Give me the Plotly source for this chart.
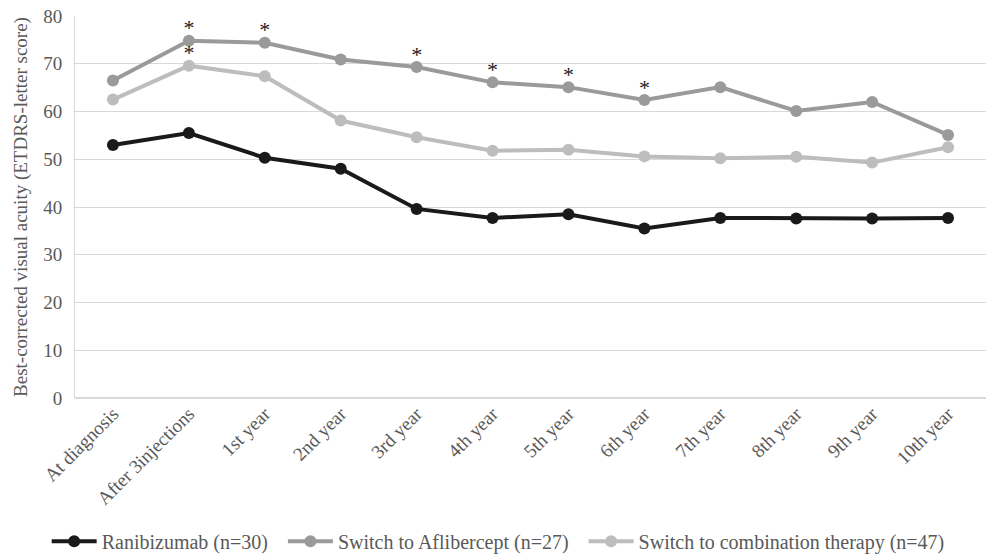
import plotly.graph_objects as go

categories = ["At diagnosis", "After 3injections", "1st year", "2nd year", "3rd year",
              "4th year", "5th year", "6th year", "7th year", "8th year", "9th year", "10th year"]

ranibizumab = [53.0, 55.5, 50.3, 48.0, 39.6, 37.7, 38.5, 35.5, 37.7, 37.6, 37.6, 37.7]
aflibercept = [66.5, 74.8, 74.4, 70.9, 69.3, 66.1, 65.1, 62.4, 65.1, 60.1, 62.0, 55.1]
combination = [62.5, 69.6, 67.4, 58.1, 54.6, 51.8, 52.0, 50.6, 50.2, 50.5, 49.3, 52.5]

# significance flags (p < 0.05) per time point
aflibercept_sig = [False, True, True, False, True, True, True, True, False, False, False, False]
combination_sig = [False, True, False, False, False, False, False, False, False, False, False, False]

y_ticks = [0, 10, 20, 30, 40, 50, 60, 70, 80]

series = [
    ("Ranibizumab (n=30)", ranibizumab, "#1a1a1a"),
    ("Switch to Aflibercept (n=27)", aflibercept, "#9a9a9a"),
    ("Switch to combination therapy (n=47)", combination, "#bdbdbd"),
]

FONT = "Liberation Serif"
TEXT_COLOR = "#595959"
FS = 19

fig = go.Figure()
for name, vals, color in series:
    fig.add_trace(go.Scatter(
        x=categories, y=vals, name=name + "  ", mode="lines+markers",
        line=dict(color=color, width=4),
        marker=dict(color=color, size=12),
    ))

for vals, flags in [(aflibercept, aflibercept_sig), (combination, combination_sig)]:
    xs = [c for c, f in zip(categories, flags) if f]
    ys = [v for v, f in zip(vals, flags) if f]
    fig.add_trace(go.Scatter(
        x=xs, y=ys, mode="text", text=["*"] * len(xs),
        textposition="top center",
        textfont=dict(family=FONT, size=22, color="#1a1a1a"),
        showlegend=False, hoverinfo="skip",
    ))

fig.update_layout(
    width=986, height=556,
    margin=dict(l=75, r=0, t=16, b=158, autoexpand=False),
    plot_bgcolor="white", paper_bgcolor="white",
    font=dict(family=FONT, size=FS, color=TEXT_COLOR),
    legend=dict(orientation="h", x=0.47, xanchor="center", y=-0.375, yanchor="middle",
                font=dict(family=FONT, size=20, color=TEXT_COLOR),
                itemwidth=45, traceorder="normal"),
    xaxis=dict(range=[-0.5, len(categories) - 0.5], tickangle=-45, showgrid=False,
               showline=False, ticks="", automargin=False,
               tickfont=dict(family=FONT, size=FS, color=TEXT_COLOR)),
    yaxis=dict(range=[0, 80], tickvals=y_ticks, showgrid=True, gridcolor="#d9d9d9",
               gridwidth=1, zeroline=True, zerolinecolor="#d9d9d9", automargin=False,
               showline=True, linecolor="#d9d9d9", ticks="", ticklabelstandoff=8,
               tickfont=dict(family=FONT, size=FS, color=TEXT_COLOR),
               title=dict(text="Best-corrected visual acuity (ETDRS-letter score)",
                          font=dict(family=FONT, size=FS, color=TEXT_COLOR), standoff=10)),
)

fig.write_html("out.html")
